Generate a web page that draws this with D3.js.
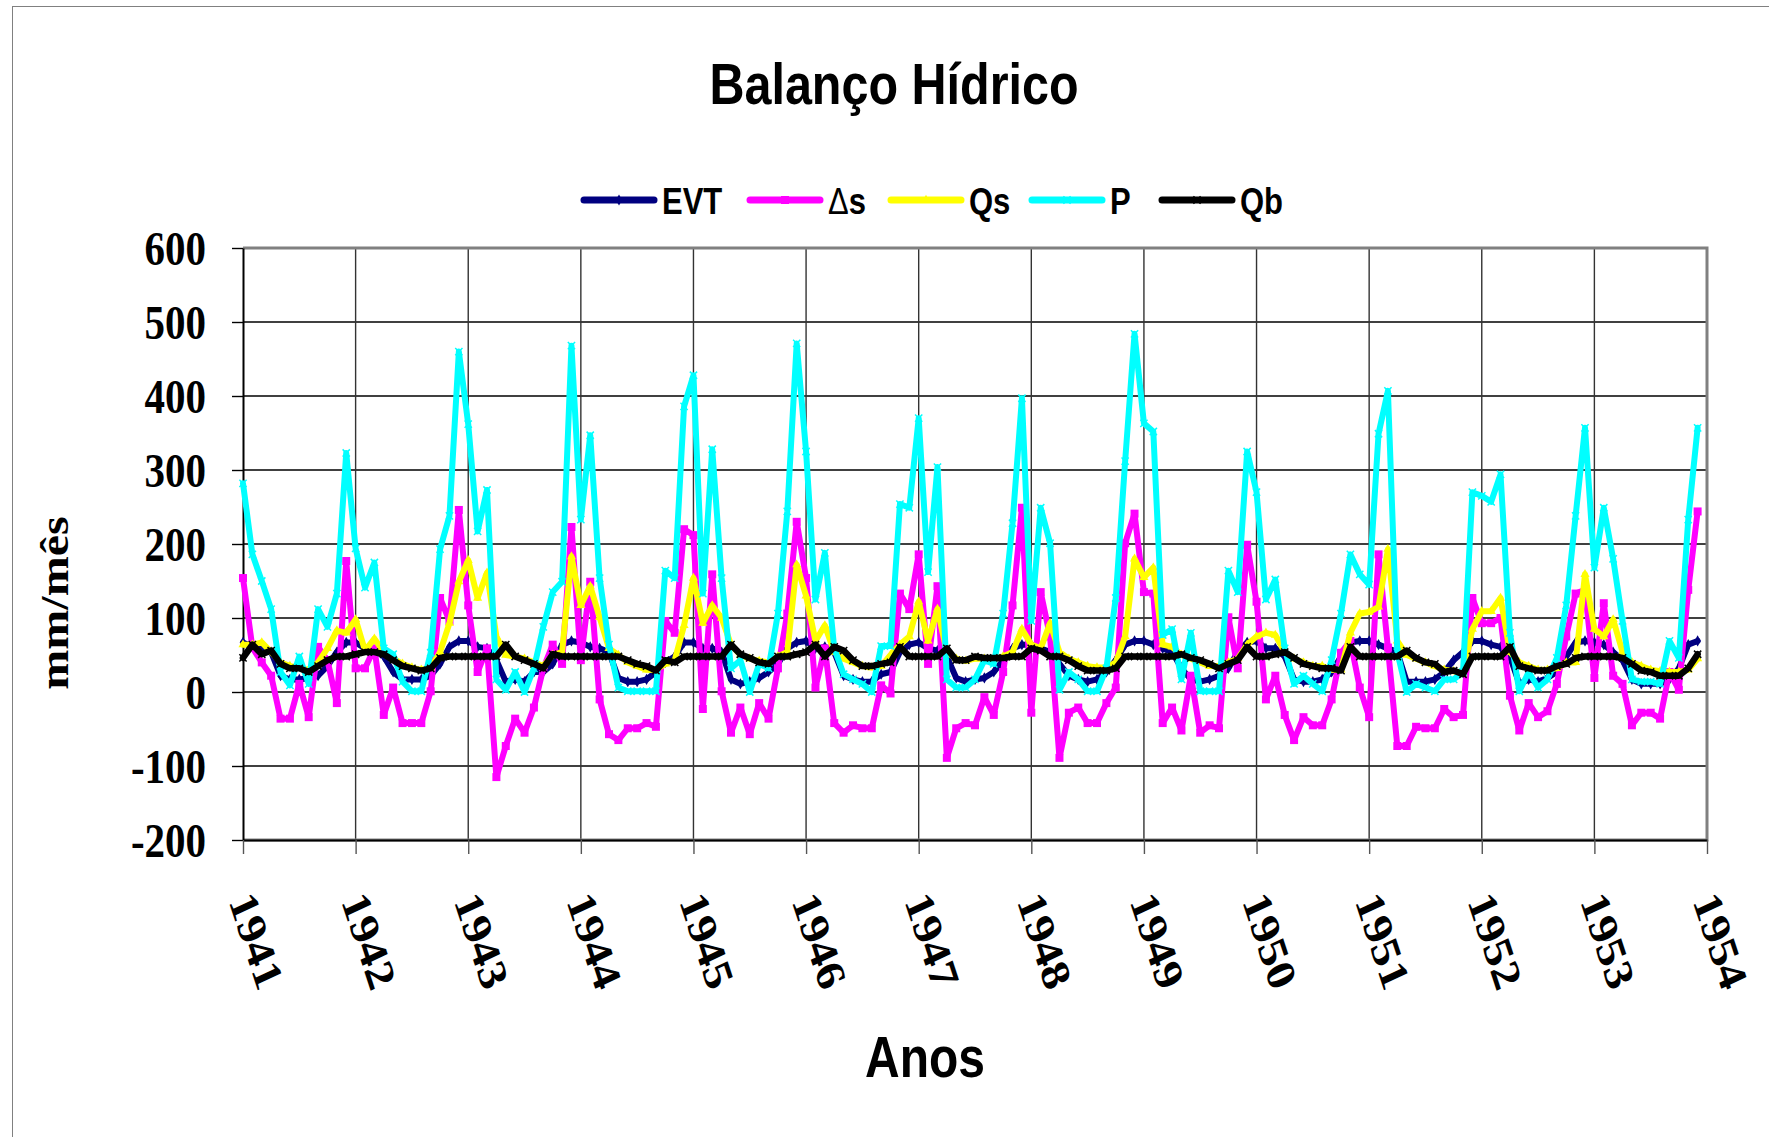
<!DOCTYPE html>
<html>
<head>
<meta charset="utf-8">
<title>Balanço Hídrico</title>
<script src="https://cdn.jsdelivr.net/npm/d3@7"></script>
<style>
    body { margin: 0; background: #ffffff; }
    svg { display: block; }
</style>
</head>
<body>
<div id="chart"></div>
<script>
// monthly values, Jan 1941 .. Dec 1953 (mm/mes)
const yearLabels = ["1941", "1942", "1943", "1944", "1945", "1946", "1947",
                    "1948", "1949", "1950", "1951", "1952", "1953", "1954"];
const yTicks = [-200, -100, 0, 100, 200, 300, 400, 500, 600];

const evt = [
    67, 61, 59, 54, 22, 17, 17, 19, 22, 35, 54, 67,
    67, 59, 56, 48, 27, 17, 17, 17, 22, 38, 61, 69,
    69, 61, 59, 43, 14, 17, 14, 27, 27, 38, 64, 69,
    67, 61, 59, 54, 19, 14, 14, 17, 27, 40, 48, 67,
    67, 59, 59, 54, 17, 11, 14, 19, 27, 38, 59, 67,
    69, 59, 61, 54, 22, 17, 14, 14, 24, 27, 54, 64,
    67, 59, 56, 48, 19, 14, 17, 19, 27, 43, 59, 64,
    64, 59, 54, 38, 22, 17, 14, 17, 27, 43, 64, 69,
    69, 64, 59, 54, 32, 17, 14, 17, 22, 32, 54, 67,
    69, 59, 59, 48, 17, 14, 14, 17, 27, 48, 67, 69,
    69, 64, 59, 54, 14, 14, 14, 17, 27, 43, 54, 69,
    69, 64, 61, 48, 11, 17, 14, 19, 27, 48, 67, 69,
    67, 64, 54, 43, 17, 11, 11, 11, 17, 32, 64, 69
];

const deltaS = [
    154, 60, 40, 22, -36, -36, 11, -34, 61, 43, -15, 177,
    32, 32, 59, -31, 6, -42, -42, -42, 1, 127, 96, 246,
    117, 27, 59, -115, -73, -36, -55, -21, 32, 64, 38, 223,
    43, 149, -10, -57, -65, -49, -49, -42, -47, 96, 80, 220,
    212, -23, 159, 1, -55, -21, -57, -15, -36, 32, 106, 230,
    154, 6, 59, -42, -55, -45, -49, -49, 9, -2, 133, 112,
    186, 38, 143, -89, -49, -42, -45, -7, -31, 27, 117, 249,
    -28, 135, 75, -89, -28, -21, -42, -42, -15, 6, 201, 241,
    135, 133, -42, -21, -52, 22, -55, -45, -49, 101, 32, 199,
    122, -10, 22, -31, -65, -34, -45, -45, -10, 53, 69, 6,
    -34, 186, 60, -73, -73, -47, -49, -49, -23, -34, -31, 127,
    93, 93, 100, -5, -52, -15, -34, -26, 11, 75, 133, 138,
    19, 120, 22, 11, -45, -28, -28, -36, 27, 3, 138, 244
];

const qs = [
    64, 64, 67, 54, 40, 35, 33, 30, 40, 59, 83, 80,
    98, 56, 72, 54, 45, 38, 33, 30, 33, 54, 93, 149,
    178, 127, 161, 75, 50, 48, 45, 40, 35, 50, 54, 183,
    117, 143, 101, 59, 50, 40, 35, 30, 30, 38, 43, 90,
    154, 93, 117, 100, 64, 50, 45, 42, 40, 48, 54, 172,
    130, 69, 90, 54, 45, 40, 35, 33, 35, 50, 64, 75,
    122, 69, 112, 54, 45, 42, 45, 45, 45, 48, 54, 85,
    64, 59, 93, 54, 45, 40, 35, 33, 33, 40, 75, 180,
    155, 168, 64, 61, 50, 45, 40, 35, 35, 40, 45, 64,
    75, 80, 77, 54, 45, 40, 35, 35, 30, 30, 80, 106,
    108, 115, 193, 69, 50, 45, 40, 35, 30, 28, 25, 85,
    109, 109, 127, 54, 40, 35, 30, 30, 32, 40, 40, 159,
    85, 75, 98, 54, 40, 35, 30, 28, 27, 27, 30, 45
];

const p = [
    282, 186, 150, 112, 27, 9, 48, 11, 112, 88, 133, 323,
    194, 141, 175, 59, 51, 14, 1, 1, 53, 193, 238, 460,
    362, 217, 273, 17, 3, 27, 0, 32, 88, 135, 149, 468,
    233, 347, 154, 64, 6, 1, 1, 1, 1, 164, 154, 386,
    428, 133, 328, 154, 32, 43, 0, 38, 32, 106, 244, 471,
    325, 125, 188, 59, 24, 17, 11, 0, 62, 62, 254, 249,
    370, 162, 304, 17, 6, 6, 17, 43, 38, 106, 228, 397,
    96, 249, 201, 3, 27, 17, 1, 1, 32, 127, 312, 484,
    363, 352, 77, 85, 17, 80, 1, 1, 1, 164, 135, 325,
    270, 125, 152, 59, 11, 22, 11, 1, 43, 106, 186, 159,
    145, 349, 407, 54, 0, 11, 6, 1, 17, 17, 27, 270,
    265, 257, 294, 80, 1, 27, 6, 17, 46, 117, 238, 357,
    168, 249, 180, 96, 17, 14, 14, 11, 69, 46, 233, 357
];

const qb = [
    46, 64, 51, 56, 38, 32, 32, 27, 35, 43, 48, 48,
    51, 54, 54, 51, 43, 35, 32, 29, 32, 46, 48, 48,
    48, 48, 48, 48, 64, 48, 43, 38, 32, 51, 48, 48,
    48, 48, 48, 48, 48, 43, 38, 35, 29, 43, 40, 48,
    48, 48, 48, 48, 64, 51, 46, 40, 38, 48, 48, 51,
    54, 64, 48, 61, 56, 43, 35, 35, 38, 40, 61, 48,
    48, 48, 48, 59, 43, 43, 48, 46, 46, 46, 48, 48,
    59, 56, 48, 48, 43, 35, 29, 29, 29, 32, 48, 48,
    48, 48, 48, 48, 51, 46, 43, 38, 32, 38, 43, 61,
    48, 48, 51, 54, 46, 38, 35, 32, 32, 29, 61, 48,
    48, 48, 48, 48, 56, 46, 40, 38, 27, 29, 24, 48,
    48, 48, 48, 61, 35, 32, 29, 29, 35, 38, 46, 48,
    48, 48, 48, 46, 38, 29, 27, 22, 22, 22, 32, 51
];

const seriesNames = ["EVT", "\u0394s", "Qs", "P", "Qb"];
const seriesValues = [evt, deltaS, qs, p, qb];
const seriesColors = ["#000080", "#ff00ff", "#ffff00", "#00ffff", "#000000"];
const seriesSymbols = [d3.symbolDiamond, d3.symbolSquare, d3.symbolTriangle, d3.symbolTimes, d3.symbolTimes];
const seriesWidths = [6, 6, 6, 6, 6.5];

const width = 1769, height = 1137;
const margin = { top: 248, right: 62, bottom: 297, left: 243 };
const innerW = width - margin.left - margin.right;
const innerH = height - margin.top - margin.bottom;
const stretch = 1.2;   // the original chart is squeezed horizontally

let svg = d3.select("#chart")
    .append("svg")
    .attr("width", width)
    .attr("height", height);

// chart area border
svg.append("rect")
    .attr("x", 12.5).attr("y", 6.5)
    .attr("width", width).attr("height", height)
    .attr("fill", "none")
    .attr("stroke", "#808080")
    .attr("stroke-width", 1);

function stretchedText(parent, x, y, txt) {
    return parent.append("text")
        .attr("transform", `translate(${x},${y}) scale(1,${stretch})`)
        .text(txt);
}

stretchedText(svg, 894, 104, "Balanço Hídrico")
    .attr("text-anchor", "middle")
    .style("font-family", "'Liberation Sans', Arial, sans-serif")
    .style("font-weight", "bold")
    .style("font-size", "48.5px");

stretchedText(svg, 925, 1077, "Anos")
    .attr("text-anchor", "middle")
    .style("font-family", "'Liberation Sans', Arial, sans-serif")
    .style("font-weight", "bold")
    .style("font-size", "48px");

svg.append("text")
    .attr("transform", `translate(56,603) scale(1,${stretch}) rotate(-90)`)
    .attr("text-anchor", "middle")
    .attr("dy", "0.3em")
    .style("font-family", "'Liberation Serif', 'Times New Roman', serif")
    .style("font-weight", "bold")
    .style("font-size", "40px")
    .text("mm/mês");

let x = d3.scaleLinear()
    .domain([0, (yearLabels.length - 1) * 12])
    .range([0, innerW]);
let y = d3.scaleLinear()
    .domain([yTicks[0], yTicks[yTicks.length - 1]])
    .range([innerH, 0]);

let g = svg.append("g")
    .attr("transform", `translate(${margin.left},${margin.top})`);

// gridlines
g.append("g")
    .selectAll("line")
    .data(yTicks.slice(1, -1))
    .enter()
    .append("line")
    .attr("x1", 0).attr("x2", innerW)
    .attr("y1", d => y(d)).attr("y2", d => y(d))
    .attr("stroke", "#000000")
    .attr("stroke-width", 1.4);

let yearTicks = yearLabels.map((d, i) => i * 12);
g.append("g")
    .selectAll("line")
    .data(yearTicks.slice(1, -1))
    .enter()
    .append("line")
    .attr("x1", d => x(d)).attr("x2", d => x(d))
    .attr("y1", 0).attr("y2", innerH)
    .attr("stroke", "#333333")
    .attr("stroke-width", 1.4);

// plot border (top / right / bottom)
g.append("path")
    .attr("d", `M0,0H${innerW}V${innerH}H0`)
    .attr("fill", "none")
    .attr("stroke", "#808080")
    .attr("stroke-width", 3);

// axes
let yAxis = d3.axisLeft(y)
    .tickValues(yTicks)
    .tickFormat(d => String(d))
    .tickSize(11)
    .tickSizeOuter(0)
    .tickPadding(26);
let yAxisG = g.append("g").attr("class", "y-axis").call(yAxis);
yAxisG.select(".domain").attr("stroke", "#000").attr("stroke-width", 2);
yAxisG.selectAll(".tick line").attr("stroke", "#000").attr("stroke-width", 1.4);
yAxisG.selectAll(".tick text")
    .attr("dy", "0.34em")
    .attr("transform", `scale(1,${stretch})`)
    .style("font-family", "'Liberation Serif', 'Times New Roman', serif")
    .style("font-weight", "bold")
    .style("font-size", "41px")
    .style("fill", "#000");

let xAxis = d3.axisBottom(x)
    .tickValues(yearTicks)
    .tickFormat((d, i) => yearLabels[i])
    .tickSize(14)
    .tickSizeOuter(0);
let xAxisG = g.append("g")
    .attr("class", "x-axis")
    .attr("transform", `translate(0,${innerH})`)
    .call(xAxis);
xAxisG.select(".domain").attr("stroke", "#000").attr("stroke-width", 2);
xAxisG.selectAll(".tick line").attr("stroke", "#555").attr("stroke-width", 1.4);
xAxisG.selectAll(".tick text")
    .attr("x", 0).attr("y", 0).attr("dy", 0)
    .attr("text-anchor", "start")
    .attr("transform", `translate(-15,61) scale(1,${stretch}) rotate(68.5)`)
    .style("font-family", "'Liberation Serif', 'Times New Roman', serif")
    .style("font-weight", "bold")
    .style("font-size", "41px")
    .style("fill", "#000");

// series
let lineGenerator = d3.line()
    .x((d, i) => x(i))
    .y(d => y(d));

seriesValues.forEach(function(values, k) {
    let lineGroup = g.append("g").attr("class", "line");
    lineGroup.append("path")
        .attr("d", lineGenerator(values))
        .style("fill", "none")
        .style("stroke", seriesColors[k])
        .style("stroke-width", seriesWidths[k] + "px")
        .style("stroke-linejoin", "round")
        .style("stroke-linecap", "round");
    let isStroke = seriesSymbols[k] === d3.symbolTimes;
    lineGroup.selectAll("path.marker")
        .data(values)
        .enter()
        .append("path")
        .attr("class", "marker")
        .attr("d", d3.symbol(seriesSymbols[k], k === 1 ? 64 : 36))
        .attr("transform", (d, i) => `translate(${x(i)},${y(d)})`)
        .style("fill", isStroke ? "none" : seriesColors[k])
        .style("stroke", seriesColors[k])
        .style("stroke-width", isStroke ? 1.5 : 0);
});

// legend
const legendX = [584, 750, 891, 1032, 1162];
let legend = svg.append("g").attr("class", "legend");
seriesNames.forEach(function(name, k) {
    let lx = legendX[k];
    legend.append("line")
        .attr("x1", lx).attr("x2", lx + 70)
        .attr("y1", 200).attr("y2", 200)
        .attr("stroke", seriesColors[k])
        .attr("stroke-width", 7)
        .attr("stroke-linecap", "round");
    let isStroke = seriesSymbols[k] === d3.symbolTimes;
    legend.append("path")
        .attr("d", d3.symbol(seriesSymbols[k], k === 1 ? 64 : 36))
        .attr("transform", `translate(${lx + 35},200)`)
        .style("fill", isStroke ? "none" : seriesColors[k])
        .style("stroke", seriesColors[k])
        .style("stroke-width", isStroke ? 1.5 : 0);
    let label = stretchedText(legend, lx + 78, 214, "")
        .style("font-family", "'Liberation Sans', Arial, sans-serif")
        .style("font-weight", "bold")
        .style("font-size", "31px");
    if (k === 1) {
        // delta sign is drawn light in the original, the "s" bold
        label.append("tspan").style("font-weight", "normal").text(name[0]);
        label.append("tspan").text(name.slice(1));
    } else {
        label.text(name);
    }
});
</script>
</body>
</html>
